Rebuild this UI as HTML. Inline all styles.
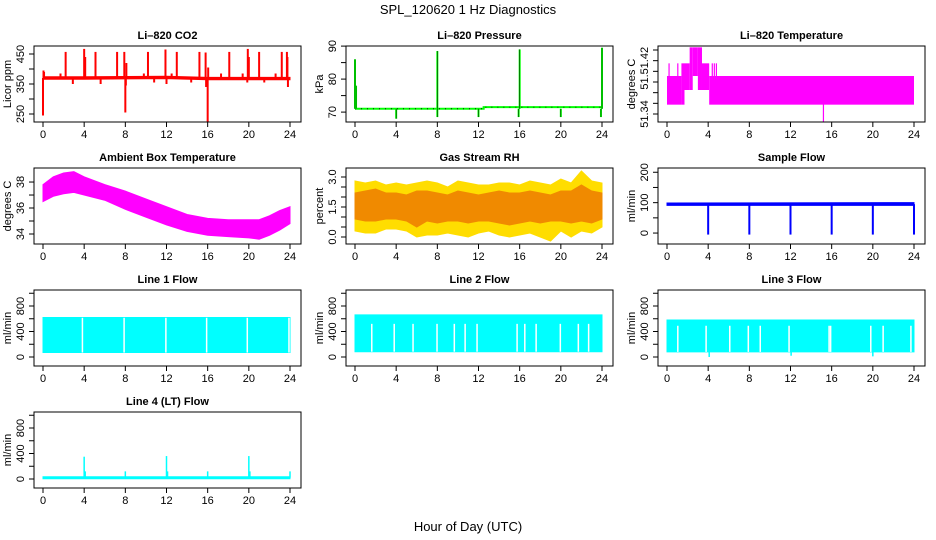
<!DOCTYPE html>
<html><head><meta charset="utf-8"><style>
html,body{margin:0;padding:0;background:#fff}
svg{display:block;font-family:"Liberation Sans",Arial,sans-serif}
</style></head><body>
<svg id="c" width="936" height="540" xmlns="http://www.w3.org/2000/svg">
<text x="468" y="14" text-anchor="middle" font-size="13">SPL_120620  1 Hz Diagnostics</text>
<text x="468" y="531" text-anchor="middle" font-size="13">Hour of Day (UTC)</text>
</svg>
<script>
// ---- data arrays ----
const xTicks=[0,4,8,12,16,20,24];
// CO2
const co2Hours=[0,4,8,12,16,20,24];
const co2Lo=[366,366,367,368,364,364,364];
const co2Hi=[374,374,375,376,372,372,372];
const co2SpikeHours=[0,0.05,0.1,1.7,2.2,2.9,4.0,4.1,5.1,5.6,7.2,7.9,8.0,8.05,8.1,9.8,10.2,10.8,11.9,12.0,12.5,13.0,14.4,15.2,15.8,15.85,16.0,16.05,17.3,18.1,19.4,19.85,19.9,20.0,21.0,21.5,22.6,23.2,23.7,23.75,23.8];
const co2SpikeVals=[245,395,390,385,457,350,467,440,457,350,457,457,255,345,420,385,457,355,465,350,385,457,355,457,455,340,225,405,385,457,385,355,467,440,457,355,385,457,457,440,340];
// Pressure
const presHours=[0,12.5,12.5,24];
const presVals=[71,71,71.5,71.5];
const presSpikeHours=[0,0.1,4,8,8,12,15.9,16,20,23.9,24];
const presSpikeVals=[86,78,68,88.5,68.5,68.5,68.5,89,68.5,68.5,89.5];
// Li-820 temperature blocks
const tempStart=[0,1.4,1.7,2.2,2.5,3.0,3.4,4.1];
const tempEnd=[1.4,1.7,2.2,2.5,3.0,3.4,4.1,24];
const tempLo=[51.354,51.354,51.376,51.376,51.397,51.376,51.376,51.354];
const tempHi=[51.397,51.416,51.416,51.44,51.44,51.44,51.416,51.397];
const tempLineHours=[0.2,1.05,4.4,4.6,4.8,15.2];
const tempLineVals=[51.416,51.416,51.416,51.416,51.416,51.328];
// Ambient box temperature
const ambHours=[0,1,2,3,4,6,8,10,12,14,16,18,20,21,22,23,24];
const ambHi=[37.8,38.4,38.7,38.8,38.4,37.8,37.3,36.7,36.1,35.5,35.2,35.1,35.1,35.1,35.4,35.8,36.1];
const ambLo=[36.5,36.9,37.1,37.2,37.0,36.6,35.9,35.3,34.7,34.2,33.9,33.8,33.7,33.6,33.9,34.3,34.8];
// Gas stream RH
const rhHours=[0,1,2,3,4,5,6,7,8,9,10,11,12,13,14,15,16,17,18,19,20,21,22,23,24];
const rhOutHi=[2.8,2.7,2.8,2.6,2.7,2.6,2.7,2.8,2.7,2.5,2.8,2.7,2.6,2.6,2.7,2.7,2.6,2.8,2.7,2.6,2.9,2.7,3.3,2.8,2.7];
const rhInHi=[2.2,2.3,2.4,2.2,2.2,2.1,2.3,2.3,2.2,2.1,2.3,2.2,2.1,2.2,2.3,2.2,2.2,2.3,2.2,2.1,2.3,2.3,2.6,2.3,2.2];
const rhInLo=[0.9,0.8,0.8,0.9,0.9,0.8,0.5,0.8,0.7,0.8,0.8,0.7,0.8,0.8,0.7,0.6,0.7,0.8,0.7,0.8,0.8,0.7,0.8,0.7,0.9];
const rhOutLo=[0.3,0.2,0.2,0.4,0.4,0.3,0.0,0.1,0.1,0.2,0.1,0.0,0.2,0.3,0.1,0.0,0.1,0.2,0.0,-0.2,0.3,0.0,0.3,0.2,0.5];
// Sample flow
const sfHours=[0,24];
const sfLo=[91,91];
const sfHi=[99,100];
const sfDropHours=[4,8,12,16,20,24];
const sfDropVals=[-5,-5,-5,-5,-5,-5];
// Line flows
const l1Top=620, l1Bot=70, l2Top=660, l2Bot=83, l3Top=580, l3Bot=80;
const l1GapHours=[3.83,7.88,11.94,15.9,19.85,23.9];
const l2GapHours=[1.63,3.81,5.64,7.97,9.65,10.7,11.86,15.75,16.5,17.6,19.95,21.7,22.7];
const l3GapHours=[1.05,3.8,6.1,7.9,9.06,11.86,15.75,15.9,19.8,21.0,23.7];
const l3LowHours=[4.1,12.06,20.0];
const l3LowVals=[0,20,10];
const l4Base=20;
const l4SpikeHours=[4,4.1,8,12,12.1,16,20,20.1,24];
const l4SpikeVals=[350,120,120,360,120,120,360,120,120];

// ---- layout ----
const NS="http://www.w3.org/2000/svg";
const svg=document.getElementById('c');
const colL=[34,346,658], W=267, rowT=[46,168,290,412], H=76;
function mk(tag,attrs,parent){const e=document.createElementNS(NS,tag);for(const k in attrs)e.setAttribute(k,attrs[k]);(parent||svg).appendChild(e);return e;}

function panel(name,col,row,title,ylab,ylim,ticks,labels){
  const L=colL[col],T=rowT[row];
  const g=mk('g',{});
  
  
  const xs=h=>L+9+h*(247/24);
  const ys=v=>T+H-(v-ylim[0])/(ylim[1]-ylim[0])*H;
  const plot=mk('g',{},g);
  
  
  const box=mk('rect',{x:L,y:T,width:W,height:H,fill:'none',stroke:'#000','stroke-width':1},g);
  
  
  const t=mk('text',{x:L+W/2,y:T-7,'text-anchor':'middle','font-size':11,'font-weight':'bold'},g);
  t.textContent=title;
  
  
  const xa=mk('g',{},g);
  
  
  mk('line',{x1:xs(0),x2:xs(24),y1:T+H,y2:T+H,stroke:'#000'},xa);
  xTicks.forEach(v=>{
    mk('line',{x1:xs(v),x2:xs(v),y1:T+H,y2:T+H+5,stroke:'#000'},xa);
    const tx=mk('text',{x:xs(v),y:T+H+16,'text-anchor':'middle','font-size':11},xa);
    tx.textContent=v;
    
    
  });
  const ya=mk('g',{},g);
  
  
  ticks.forEach(v=>{mk('line',{x1:L-5,x2:L,y1:ys(v),y2:ys(v),stroke:'#000'},ya);});
  mk('line',{x1:L,x2:L,y1:ys(ticks[0]),y2:ys(ticks[ticks.length-1]),stroke:'#000'},ya);
  labels.forEach(([v,s])=>{
    const y=ys(v);
    const tx=mk('text',{x:L-10,y:y,'text-anchor':'middle','font-size':11,transform:`rotate(-90 ${L-10} ${y})`},ya);
    tx.textContent=s;
    
    
  });
  const yl=mk('text',{x:L-23,y:T+H/2,'text-anchor':'middle','font-size':11,transform:`rotate(-90 ${L-23} ${T+H/2})`},g);
  yl.textContent=ylab;
  
  
  return {xs,ys,plot};
}
function band(p,hrs,lo,hi,fill,name){
  let d='M'+hrs.map((h,i)=>p.xs(h)+','+p.ys(hi[i])).join('L');
  for(let i=hrs.length-1;i>=0;i--)d+='L'+p.xs(hrs[i])+','+p.ys(lo[i]);
  const e=mk('path',{d:d+'Z',fill:fill,stroke:fill,'stroke-width':1},p.plot);
  
  
}
function vseg(p,h,v1,v2,color,w,name){
  const e=mk('line',{x1:p.xs(h),x2:p.xs(h),y1:p.ys(v1),y2:p.ys(v2),stroke:color,'stroke-width':w||1.5},p.plot);
  
  
}

// CO2
let p=panel('co2',0,0,'Li–820 CO2','Licor ppm',[223.3,476.7],[250,300,350,400,450],[[250,'250'],[350,'350'],[450,'450']]);
band(p,co2Hours,co2Lo,co2Hi,'#ff0000','co2-baseline');
co2SpikeHours.forEach((h,i)=>vseg(p,h,370,co2SpikeVals[i],'#ff0000',2,'co2-spike'));
// Pressure
p=panel('pressure',1,0,'Li–820 Pressure','kPa',[67,90.03],[70,75,80,85,90],[[70,'70'],[80,'80'],[90,'90']]);
{const d='M'+presHours.map((h,i)=>p.xs(h)+','+p.ys(presVals[i])).join('L');
 const e=mk('path',{d:d,fill:'none',stroke:'#00ff00','stroke-width':2},p.plot);
 
 
 const e2=mk('path',{d:d,fill:'none',stroke:'#000','stroke-width':0.8,'stroke-dasharray':'1 5'},p.plot);
 
 }
presSpikeHours.forEach((h,i)=>{vseg(p,h,71,presSpikeVals[i],'#00ff00',2,'pressure-spike');vseg(p,h,71,presSpikeVals[i],'#000',0.5,'pressure-spike-dots');});
// Temperature
p=panel('li820-temp',2,0,'Li–820 Temperature','degrees C',[51.328,51.442],[51.34,51.356,51.372,51.388,51.404,51.42,51.436],[[51.34,'51.34'],[51.388,'51.'],[51.42,'51.42']]);
tempStart.forEach((s,i)=>{
  const e=mk('rect',{x:p.xs(s),y:p.ys(tempHi[i]),width:p.xs(tempEnd[i])-p.xs(s),height:p.ys(tempLo[i])-p.ys(tempHi[i]),fill:'#ff00ff'},p.plot);
  
  
});
tempLineHours.forEach((h,i)=>vseg(p,h,51.376,tempLineVals[i],'#ff00ff',1.2,'temp-spike'));
// Ambient
p=panel('ambient-temp',0,1,'Ambient Box Temperature','degrees C',[33.23,39.08],[34,35,36,37,38],[[34,'34'],[36,'36'],[38,'38']]);
band(p,ambHours,ambLo,ambHi,'#ff00ff','ambient-band');
// RH
p=panel('rh',1,1,'Gas Stream RH','percent',[-0.35,3.45],[0,0.5,1,1.5,2,2.5,3],[[0,'0.0'],[1.5,'1.5'],[3,'3.0']]);
band(p,rhHours,rhOutLo,rhOutHi,'#ffdd00','rh-outer-band');
band(p,rhHours,rhInLo,rhInHi,'#f08a00','rh-inner-band');
// Sample flow
p=panel('sample-flow',2,1,'Sample Flow','ml/min',[-36,214],[0,50,100,150,200],[[0,'0'],[100,'100'],[200,'200']]);
band(p,sfHours,sfLo,sfHi,'#0000ff','sample-flow-band');
sfDropHours.forEach((h,i)=>vseg(p,h,95,sfDropVals[i],'#0000ff',2,'sample-flow-drop'));
// Line flows
const fl=[-141,1051], ft=[0,200,400,600,800,1000], flab=[[0,'0'],[400,'400'],[800,'800']];
function flowPanel(name,col,row,title,top,bot,gaps,gapTop){
  const q=panel(name,col,row,title,'ml/min',fl,ft,flab);
  band(q,[0,24],[bot,bot],[top,top],'#00ffff',name+'-band');
  gaps.forEach(h=>vseg(q,h,bot,gapTop,'#ffffff',1.5,name+'-gap'));
  return q;
}
flowPanel('line1-flow',0,2,'Line 1 Flow',l1Top,l1Bot,l1GapHours,l1Top-5);
flowPanel('line2-flow',1,2,'Line 2 Flow',l2Top,l2Bot,l2GapHours,520);
p=flowPanel('line3-flow',2,2,'Line 3 Flow',l3Top,l3Bot,l3GapHours,490);
l3LowHours.forEach((h,i)=>vseg(p,h,l3Bot,l3LowVals[i],'#00ffff',1.5,'line3-low'));
p=panel('line4-flow',0,3,'Line 4 (LT) Flow','ml/min',fl,ft,flab);
band(p,[0,24],[l4Base-15,l4Base-15],[l4Base+15,l4Base+15],'#00ffff','line4-base');
l4SpikeHours.forEach((h,i)=>vseg(p,h,l4Base,l4SpikeVals[i],'#00ffff',1.5,'line4-spike'));
</script>
</body></html>
